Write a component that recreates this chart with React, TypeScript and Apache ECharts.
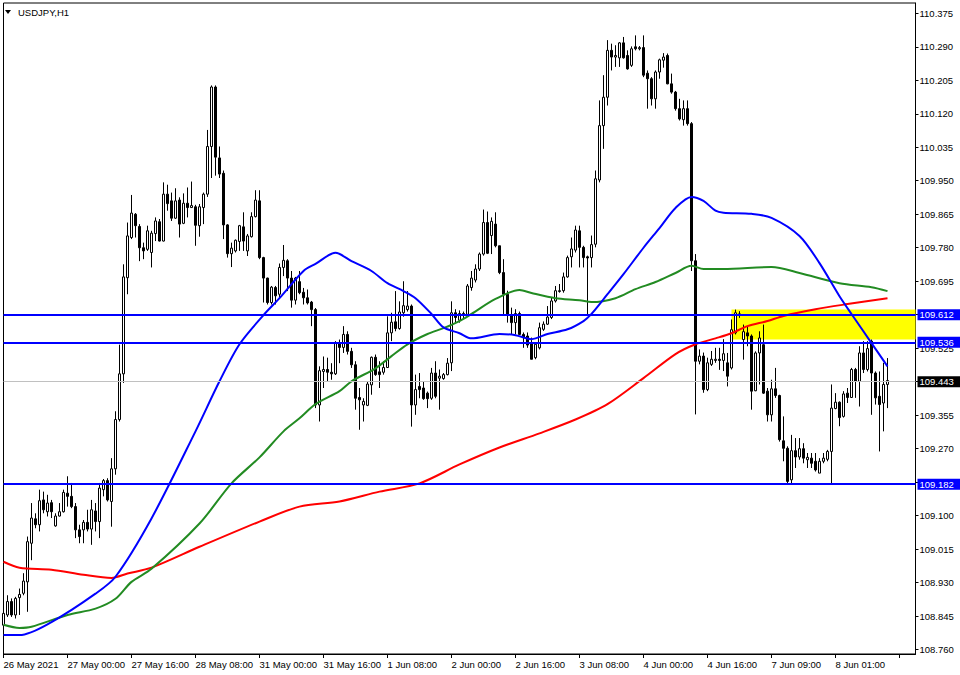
import React, { useEffect, useRef } from "react";
import * as echarts from "echarts";

// ---- time axis (H1 bars) ----
const sessionDays = ["26 May", "27 May", "28 May", "31 May", "1 Jun", "2 Jun", "3 Jun", "4 Jun", "7 Jun", "8 Jun"];
const sessionStart = [8, 0, 0, 0, 0, 0, 0, 0, 1, 0];
const sessionEnd = [23, 23, 23, 23, 23, 23, 23, 23, 23, 14];
const firstLabel = "26 May 2021";
const N_SLOTS = 229; // bars + empty right shift

// ---- price axis ----
const tickMin = 108.76;
const tickMax = 110.375;
const tickStep = 0.085;
const frameMin = 108.7489;
const frameMax = 110.4012;

// ---- OHLC ----
const opens = [
  108.822, 108.848, 108.882, 108.848, 108.892, 108.903, 108.932, 109.03, 109.092, 109.077,
  109.14, 109.11, 109.133, 109.074, 109.099, 109.11, 109.157, 109.149, 109.123, 109.064,
  109.064, 109.083, 109.066, 109.112, 109.085, 109.166, 109.189, 109.136, 109.219, 109.344,
  109.46, 109.704, 109.806, 109.865, 109.834, 109.78, 109.776, 109.768, 109.816, 109.846,
  109.797, 109.916, 109.899, 109.855, 109.901, 109.842, 109.893, 109.882, 109.884, 109.836,
  109.882, 109.916, 110.037, 110.188, 110.008, 109.969, 109.838, 109.765, 109.772, 109.796,
  109.833, 109.772, 109.808, 109.859, 109.899, 109.755, 109.703, 109.641, 109.679, 109.662,
  109.73, 109.747, 109.703, 109.647, 109.694, 109.667, 109.653, 109.642, 109.623, 109.381,
  109.466, 109.471, 109.464, 109.46, 109.538, 109.527, 109.56, 109.517, 109.483, 109.4,
  109.381, 109.38, 109.432, 109.502, 109.465, 109.464, 109.476, 109.564, 109.592, 109.575,
  109.615, 109.623, 109.632, 109.381, 109.428, 109.424, 109.411, 109.398, 109.462, 109.449,
  109.448, 109.458, 109.488, 109.615, 109.596, 109.613, 109.611, 109.679, 109.698, 109.726,
  109.764, 109.844, 109.811, 109.84, 109.785, 109.717, 109.662, 109.61, 109.59, 109.613,
  109.56, 109.556, 109.539, 109.501, 109.526, 109.573, 109.586, 109.603, 109.645, 109.669,
  109.671, 109.706, 109.757, 109.774, 109.823, 109.781, 109.757, 109.755, 109.789, 109.952,
  110.09, 110.162, 110.281, 110.264, 110.262, 110.3, 110.268, 110.243, 110.29, 110.285,
  110.288, 110.223, 110.209, 110.158, 110.226, 110.256, 110.268, 110.196, 110.175, 110.133,
  110.105, 110.133, 110.095, 109.747, 109.492, 109.505, 109.42, 109.484, 109.494, 109.497,
  109.494, 109.488, 109.475, 109.564, 109.611, 109.547, 109.564, 109.556, 109.417, 109.513,
  109.534, 109.416, 109.356, 109.422, 109.405, 109.29, 109.271, 109.191, 109.265, 109.249,
  109.27, 109.242, 109.246, 109.238, 109.208, 109.238, 109.243, 109.263, 109.372, 109.388,
  109.352, 109.411, 109.4, 109.471, 109.441, 109.513, 109.471, 109.543, 109.462, 109.403,
  109.386, 109.433,
];
const highs = [
  108.886, 108.898, 108.89, 108.894, 108.915, 108.954, 109.047, 109.132, 109.106, 109.166,
  109.161, 109.153, 109.14, 109.106, 109.132, 109.166, 109.2, 109.183, 109.132, 109.077,
  109.089, 109.115, 109.14, 109.132, 109.183, 109.193, 109.195, 109.246, 109.365, 109.534,
  109.738, 109.844, 109.914, 109.868, 109.84, 109.793, 109.836, 109.823, 109.857, 109.853,
  109.946, 109.94, 109.92, 109.931, 109.908, 109.918, 109.933, 109.948, 109.889, 109.891,
  109.92, 110.079, 110.192, 110.192, 110.037, 109.976, 109.84, 109.793, 109.801, 109.838,
  109.87, 109.815, 109.87, 109.926, 109.926, 109.757, 109.704, 109.683, 109.683, 109.74,
  109.787, 109.751, 109.721, 109.706, 109.721, 109.678, 109.674, 109.645, 109.627, 109.479,
  109.504, 109.501, 109.487, 109.543, 109.547, 109.581, 109.568, 109.526, 109.492, 109.424,
  109.398, 109.441, 109.504, 109.509, 109.492, 109.492, 109.606, 109.615, 109.67, 109.644,
  109.695, 109.67, 109.636, 109.458, 109.462, 109.441, 109.415, 109.475, 109.492, 109.471,
  109.462, 109.5, 109.644, 109.624, 109.621, 109.618, 109.688, 109.721, 109.738, 109.768,
  109.877, 109.872, 109.857, 109.87, 109.785, 109.751, 109.671, 109.628, 109.624, 109.618,
  109.565, 109.565, 109.552, 109.539, 109.59, 109.593, 109.632, 109.654, 109.683, 109.688,
  109.717, 109.76, 109.806, 109.836, 109.836, 109.785, 109.76, 109.811, 109.976, 110.154,
  110.218, 110.307, 110.298, 110.294, 110.302, 110.315, 110.281, 110.291, 110.319, 110.292,
  110.319, 110.23, 110.213, 110.23, 110.26, 110.274, 110.273, 110.222, 110.178, 110.158,
  110.154, 110.154, 110.099, 109.764, 109.522, 109.514, 109.501, 109.518, 109.526, 109.526,
  109.548, 109.513, 109.598, 109.623, 109.619, 109.585, 109.581, 109.56, 109.517, 109.568,
  109.585, 109.424, 109.445, 109.475, 109.407, 109.352, 109.276, 109.305, 109.297, 109.297,
  109.284, 109.259, 109.259, 109.259, 109.246, 109.259, 109.267, 109.433, 109.411, 109.39,
  109.416, 109.424, 109.475, 109.475, 109.53, 109.543, 109.543, 109.547, 109.466, 109.466,
  109.488, 109.5,
];
const lows = [
  108.797, 108.843, 108.843, 108.839, 108.848, 108.898, 108.856, 108.987, 109.068, 109.06,
  109.106, 109.098, 109.094, 109.072, 109.098, 109.108, 109.123, 109.119, 109.043, 109.03,
  109.03, 109.06, 109.026, 109.06, 109.043, 109.149, 109.136, 109.072, 109.204, 109.339,
  109.437, 109.662, 109.802, 109.806, 109.746, 109.751, 109.772, 109.73, 109.797, 109.796,
  109.796, 109.874, 109.848, 109.853, 109.806, 109.84, 109.857, 109.881, 109.785, 109.808,
  109.84, 109.909, 109.957, 109.963, 109.957, 109.802, 109.755, 109.731, 109.768, 109.772,
  109.772, 109.759, 109.806, 109.857, 109.751, 109.641, 109.636, 109.636, 109.636, 109.653,
  109.708, 109.67, 109.628, 109.636, 109.662, 109.636, 109.636, 109.581, 109.373, 109.339,
  109.424, 109.441, 109.445, 109.457, 109.487, 109.513, 109.509, 109.475, 109.369, 109.318,
  109.339, 109.378, 109.407, 109.455, 109.424, 109.458, 109.475, 109.543, 109.568, 109.572,
  109.605, 109.618, 109.326, 109.356, 109.398, 109.394, 109.373, 109.394, 109.398, 109.369,
  109.445, 109.456, 109.467, 109.59, 109.59, 109.6, 109.607, 109.671, 109.692, 109.721,
  109.76, 109.764, 109.764, 109.781, 109.713, 109.611, 109.59, 109.56, 109.56, 109.559,
  109.526, 109.526, 109.497, 109.497, 109.522, 109.569, 109.584, 109.599, 109.641, 109.666,
  109.666, 109.704, 109.73, 109.768, 109.73, 109.73, 109.607, 109.73, 109.781, 109.946,
  110.031, 110.141, 110.23, 110.239, 110.239, 110.26, 110.232, 110.239, 110.281, 110.281,
  110.213, 110.133, 110.141, 110.133, 110.209, 110.237, 110.195, 110.171, 110.128, 110.103,
  110.09, 110.09, 109.721, 109.357, 109.484, 109.412, 109.416, 109.48, 109.488, 109.47,
  109.467, 109.428, 109.471, 109.56, 109.602, 109.496, 109.53, 109.369, 109.416, 109.433,
  109.409, 109.339, 109.339, 109.399, 109.288, 109.238, 109.182, 109.182, 109.221, 109.242,
  109.233, 109.221, 109.221, 109.212, 109.208, 109.233, 109.238, 109.182, 109.37, 109.327,
  109.349, 109.386, 109.399, 109.399, 109.377, 109.462, 109.466, 109.356, 109.382, 109.263,
  109.314, 109.373,
];
const closes = [
  108.852, 108.882, 108.848, 108.89, 108.9, 108.934, 109.034, 109.094, 109.077, 109.138,
  109.115, 109.132, 109.11, 109.099, 109.11, 109.159, 109.149, 109.123, 109.064, 109.047,
  109.083, 109.066, 109.115, 109.085, 109.17, 109.189, 109.14, 109.219, 109.344, 109.46,
  109.706, 109.81, 109.868, 109.836, 109.78, 109.772, 109.823, 109.817, 109.848, 109.797,
  109.916, 109.892, 109.855, 109.899, 109.84, 109.893, 109.882, 109.887, 109.837, 109.884,
  109.916, 110.037, 110.188, 110.01, 109.967, 109.838, 109.765, 109.779, 109.799, 109.836,
  109.797, 109.81, 109.859, 109.901, 109.755, 109.703, 109.641, 109.68, 109.658, 109.73,
  109.748, 109.703, 109.647, 109.703, 109.666, 109.653, 109.64, 109.623, 109.381, 109.468,
  109.471, 109.464, 109.46, 109.538, 109.527, 109.56, 109.517, 109.483, 109.398, 109.394,
  109.39, 109.434, 109.502, 109.458, 109.458, 109.476, 109.564, 109.591, 109.575, 109.617,
  109.633, 109.632, 109.381, 109.42, 109.42, 109.397, 109.397, 109.462, 109.403, 109.454,
  109.458, 109.487, 109.615, 109.603, 109.613, 109.61, 109.683, 109.703, 109.726, 109.764,
  109.844, 109.766, 109.847, 109.785, 109.717, 109.662, 109.611, 109.59, 109.613, 109.56,
  109.552, 109.533, 109.497, 109.535, 109.577, 109.586, 109.604, 109.645, 109.671, 109.671,
  109.706, 109.755, 109.777, 109.825, 109.781, 109.755, 109.754, 109.788, 109.955, 110.09,
  110.162, 110.281, 110.264, 110.268, 110.3, 110.262, 110.234, 110.285, 110.285, 110.288,
  110.218, 110.209, 110.158, 110.226, 110.257, 110.264, 110.196, 110.175, 110.133, 110.107,
  110.133, 110.095, 109.747, 109.492, 109.505, 109.42, 109.488, 109.497, 109.497, 109.494,
  109.511, 109.454, 109.572, 109.615, 109.612, 109.567, 109.556, 109.416, 109.513, 109.551,
  109.411, 109.356, 109.422, 109.405, 109.293, 109.271, 109.187, 109.265, 109.249, 109.27,
  109.246, 109.248, 109.233, 109.216, 109.238, 109.246, 109.263, 109.373, 109.388, 109.349,
  109.409, 109.4, 109.471, 109.441, 109.513, 109.471, 109.524, 109.462, 109.399, 109.382,
  109.433, 109.443,
];

// ---- moving averages (read at sampled bars) ----
const maBlueBars = [0, 4, 12, 23, 28, 37, 48, 54, 59, 65, 69, 75, 78, 83, 87, 92, 96, 100, 103, 107, 110, 114, 117, 124, 128, 132, 136, 141, 145, 147, 151, 155, 160, 164, 168, 172, 175, 178, 180, 187, 192, 199, 204, 209, 212, 217, 221];
const maBlueVals = [108.797, 108.797, 108.83, 108.902, 108.945, 109.093, 109.314, 109.441, 109.535, 109.609, 109.652, 109.721, 109.739, 109.767, 109.746, 109.721, 109.69, 109.67, 109.652, 109.612, 109.578, 109.563, 109.55, 109.561, 109.558, 109.548, 109.561, 109.573, 109.594, 109.612, 109.662, 109.713, 109.78, 109.83, 109.881, 109.909, 109.899, 109.874, 109.869, 109.866, 109.856, 109.81, 109.741, 109.657, 109.612, 109.538, 109.479];
const maGreenBars = [0, 4, 7, 16, 23, 28, 32, 37, 49, 57, 64, 70, 74, 78, 84, 87, 93, 97, 101, 106, 110, 114, 117, 123, 129, 132, 138, 144, 147, 153, 158, 163, 168, 172, 175, 180, 192, 199, 209, 217, 221];
const maGreenVals = [108.823, 108.815, 108.818, 108.848, 108.864, 108.889, 108.932, 108.965, 109.08, 109.182, 109.248, 109.314, 109.347, 109.383, 109.416, 109.441, 109.474, 109.505, 109.535, 109.561, 109.576, 109.594, 109.612, 109.65, 109.673, 109.665, 109.652, 109.647, 109.642, 109.652, 109.675, 109.693, 109.716, 109.734, 109.726, 109.726, 109.731, 109.716, 109.69, 109.68, 109.67];
const maRedBars = [0, 4, 12, 20, 27, 31, 37, 49, 64, 74, 84, 94, 104, 114, 124, 134, 143, 151, 160, 168, 173, 178, 182, 186, 191, 195, 203, 211, 221];
const maRedVals = [108.983, 108.968, 108.963, 108.95, 108.942, 108.953, 108.968, 109.021, 109.085, 109.123, 109.136, 109.161, 109.182, 109.23, 109.273, 109.309, 109.344, 109.383, 109.449, 109.51, 109.535, 109.55, 109.563, 109.581, 109.594, 109.607, 109.624, 109.637, 109.652];

// ---- objects ----
const hLinePrices = [109.612, 109.536, 109.182];
const currentPrice = 109.443;
const zoneBottom = 109.547;
const zoneTop = 109.623;
const zoneStartBar = 182;

const FONT = '"Liberation Sans", Arial, sans-serif';

function buildCategories(): string[] {
  const cats: string[] = [];
  sessionDays.forEach((d, k) => {
    for (let h = sessionStart[k]; h <= sessionEnd[k]; h++) {
      cats.push(`${d} ${String(h).padStart(2, "0")}:00`);
    }
  });
  cats[0] = firstLabel;
  while (cats.length < N_SLOTS) cats.push("");
  return cats;
}

export default function App() {
  const ref = useRef<HTMLDivElement>(null);

  useEffect(() => {
    if (!ref.current) return;
    const chart = echarts.init(ref.current, undefined, { renderer: "svg" });
    const categories = buildCategories();
    const candles = opens.map((o, i) => [o, closes[i], lows[i], highs[i]]);
    const pairs = (bars: number[], vals: number[]) => bars.map((b, k) => [b, vals[k]]);

    const hLines = hLinePrices.map((p) => ({
      yAxis: p,
      lineStyle: { color: "#0000FF", width: 2, type: "solid" },
      label: {
        show: true,
        position: "end",
        distance: 2,
        formatter: p.toFixed(3),
        color: "#FFFFFF",
        backgroundColor: "#0000FF",
        padding: [1, 20, 0, 2],
        fontSize: 9.5,
        lineHeight: 10,
        fontFamily: FONT,
      },
    }));

    const option: any = {
      animation: false,
      backgroundColor: "#FFFFFF",
      grid: [
        { left: 3.5, top: 3, width: 912, height: 651, show: true, borderColor: "#000", borderWidth: 1, backgroundColor: "#FFFFFF" },
        { left: 3.5, top: 13.3, width: 912, height: 636.3, show: false },
      ],
      xAxis: [
        {
          type: "category",
          gridIndex: 0,
          data: categories,
          boundaryGap: false,
          axisLine: { show: true, lineStyle: { color: "#000", width: 1 } },
          axisTick: { show: true, interval: 15, length: 4, lineStyle: { color: "#000" } },
          axisLabel: { interval: 15, align: "left", margin: 5, color: "#000", fontSize: 9.5, fontFamily: FONT, lineHeight: 11 },
          splitLine: { show: false },
        },
        { type: "category", gridIndex: 1, data: ["a", "b"], show: false },
      ],
      yAxis: [
        {
          type: "value",
          gridIndex: 0,
          position: "right",
          min: frameMin,
          max: frameMax,
          axisLine: { show: true, lineStyle: { color: "#000", width: 1 } },
          axisTick: { show: false },
          axisLabel: { show: false },
          splitLine: { show: false },
        },
        {
          type: "value",
          gridIndex: 1,
          position: "right",
          min: tickMin,
          max: tickMax,
          interval: tickStep,
          axisLine: { show: false },
          axisTick: { show: true, length: 3, lineStyle: { color: "#000" } },
          axisLabel: {
            margin: 4,
            color: "#000",
            fontSize: 9.5,
            fontFamily: FONT,
            formatter: (v: number) => v.toFixed(3),
          },
          splitLine: { show: false },
        },
      ],
      series: [
        {
          type: "candlestick",
          xAxisIndex: 0,
          yAxisIndex: 0,
          data: candles,
          barWidth: 2,
          itemStyle: { color: "#FFFFFF", color0: "#000000", borderColor: "#000000", borderColor0: "#000000", borderWidth: 1 },
          markArea: {
            silent: true,
            itemStyle: { color: "#FFFF00" },
            data: [[{ xAxis: zoneStartBar, yAxis: zoneBottom }, { xAxis: N_SLOTS - 1, yAxis: zoneTop }]],
          },
          markLine: {
            silent: true,
            symbol: ["none", "none"],
            data: [
              {
                yAxis: currentPrice,
                lineStyle: { color: "#C0C0C0", width: 1, type: "solid" },
                label: {
                  show: true,
                  position: "end",
                  distance: 2,
                  formatter: currentPrice.toFixed(3),
                  color: "#FFFFFF",
                  backgroundColor: "#000000",
                  padding: [1, 20, 0, 2],
                  fontSize: 9.5,
                  lineHeight: 10,
                  fontFamily: FONT,
                },
              },
              ...hLines,
            ],
          },
        },
        {
          type: "line",
          data: pairs(maRedBars, maRedVals),
          smooth: 0.3,
          showSymbol: false,
          lineStyle: { color: "#FF0000", width: 2 },
          z: 3,
        },
        {
          type: "line",
          data: pairs(maGreenBars, maGreenVals),
          smooth: 0.3,
          showSymbol: false,
          lineStyle: { color: "#228B22", width: 2 },
          z: 3,
        },
        {
          type: "line",
          data: pairs(maBlueBars, maBlueVals),
          smooth: 0.3,
          showSymbol: false,
          lineStyle: { color: "#0000FF", width: 2 },
          z: 3,
        },
      ],
      graphic: [
        { type: "polygon", shape: { points: [[5, 10], [11, 10], [8, 14]] }, style: { fill: "#000" }, z: 10 },
        {
          type: "text",
          x: 18,
          y: 12,
          style: { text: "USDJPY,H1", fill: "#000", fontSize: 9.5, fontFamily: FONT, verticalAlign: "middle" },
          z: 10,
        },
      ],
    };

    chart.setOption(option);
    return () => chart.dispose();
  }, []);

  return <div ref={ref} style={{ position: "absolute", left: 0, top: 0, width: 960, height: 675 }} />;
}
